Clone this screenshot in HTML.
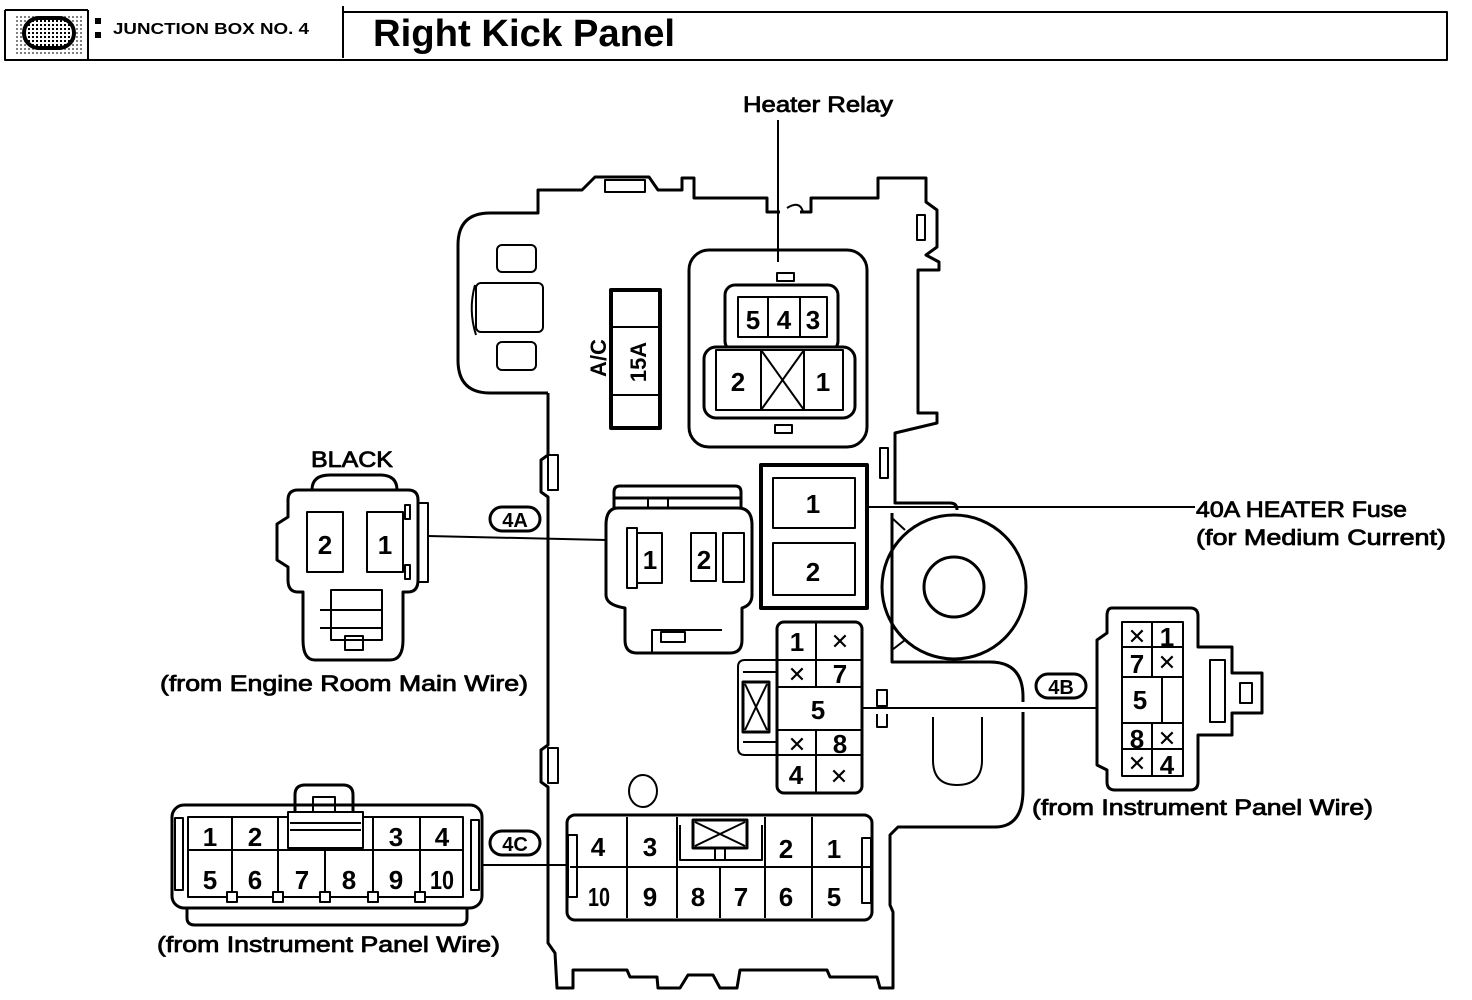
<!DOCTYPE html>
<html><head><meta charset="utf-8"><style>
html,body{margin:0;padding:0;background:#fff;}
svg{display:block;}
text{font-family:"Liberation Sans",sans-serif;fill:#000;}
.n{font-weight:bold;font-size:26px;text-anchor:middle;}
.l{font-size:22px;stroke:#000;stroke-width:0.8;}
</style></head><body>
<svg width="1472" height="1000" viewBox="0 0 1472 1000" xmlns="http://www.w3.org/2000/svg" fill="none" stroke="#000" stroke-width="3" stroke-linejoin="round">
<defs>
<pattern id="dots" width="4" height="4" patternUnits="userSpaceOnUse"><rect width="4" height="4" fill="#fff" stroke="none"/><rect x="0" y="0" width="2" height="2" fill="#000" stroke="none"/></pattern>
</defs>
<!-- header -->
<g stroke-width="2">
<path d="M5,10 V60 H1447 V12 H343 M343,6 V58"/>
<line x1="5" y1="10" x2="88" y2="10"/>
<line x1="88" y1="10" x2="88" y2="60"/>
</g>
<rect x="14" y="14" width="70" height="42" fill="url(#dots)" stroke="none" opacity="0.5"/>
<rect x="24" y="18" width="50" height="30" rx="15" fill="url(#dots)" stroke-width="4"/>
<rect x="95" y="18" width="6" height="6" fill="#000" stroke="none"/>
<rect x="95" y="32" width="6" height="6" fill="#000" stroke="none"/>
<text x="113" y="34" style="font-size:16px;font-weight:bold" stroke="none" textLength="196" lengthAdjust="spacingAndGlyphs">JUNCTION  BOX NO.  4</text>
<text x="373" y="46" style="font-size:38px;font-weight:bold" stroke="none" textLength="302" lengthAdjust="spacingAndGlyphs">Right Kick Panel</text>

<!-- main body outline -->
<path d="M548,393 H490 Q458,393 458,360 V245 Q458,213 490,213 H538 V190 H582 L595,177 H649 L658,190 H682 V178 H694 V198 H767 V212 H780 M800,212 H811 V198 H878 V178 H926 V202 L937,210 V247 L926,255 L939,262 V270 H918 V413 H937 V423 L895,433 V503 H950 Q957,503 957,510"/>
<path d="M787,208 Q800,200 803,212" stroke-width="2"/>
<path d="M548,393 V455 L541,460 V492 L548,497 V745 L541,750 V782 L548,787 V943 L555,953 L557,988 H573 V970 H627 L630,977 H657 L658,988 H680 L688,975 H713 L720,988 H737 L740,970 H827 L830,977 H877 L880,988 H893 V912 L890,905 V835 L898,827 H995 Q1023,827 1023,790 V712 M1023,702 V697 Q1023,662 990,662 H892 V513"/>
<!-- side tabs -->
<rect x="548" y="455" width="10" height="35" stroke-width="2"/>
<rect x="548" y="748" width="10" height="35" stroke-width="2"/>
<rect x="880" y="448" width="8" height="30" stroke-width="2"/>
<rect x="917" y="215" width="8" height="25" stroke-width="2"/>
<rect x="605" y="180" width="40" height="12" stroke-width="2"/>
<!-- left appendage -->
<path d="M475,285 Q468,310 476,335" stroke-width="2"/>
<rect x="497" y="245" width="39" height="27" rx="5" stroke-width="2"/>
<rect x="476" y="283" width="67" height="49" rx="5" stroke-width="2"/>
<rect x="497" y="342" width="39" height="28" rx="5" stroke-width="2"/>
<!-- A/C fuse -->
<rect x="611" y="290" width="49" height="138" stroke-width="4"/>
<line x1="613" y1="327" x2="658" y2="327" stroke-width="2"/>
<line x1="613" y1="395" x2="658" y2="395" stroke-width="2"/>
<text transform="translate(646,362) rotate(-90)" class="n" stroke="none" style="font-size:22px">15A</text>
<text transform="translate(606,358) rotate(-90)" class="n" stroke="none" style="font-size:22px">A/C</text>
<!-- heater relay -->
<line x1="778" y1="120" x2="778" y2="262" stroke-width="2"/>
<rect x="689" y="250" width="178" height="197" rx="20"/>
<rect x="777" y="273" width="17" height="8" stroke-width="2"/>
<rect x="775" y="425" width="17" height="8" stroke-width="2"/>
<rect x="725" y="285" width="113" height="66" rx="10"/>
<rect x="704" y="347" width="151" height="71" rx="12" fill="#fff"/>
<g stroke-width="2">
<rect x="738" y="297" width="89" height="40"/>
<line x1="768" y1="297" x2="768" y2="337"/><line x1="800" y1="297" x2="800" y2="337"/>
<rect x="716" y="350" width="127" height="60"/>
<line x1="761" y1="350" x2="761" y2="410"/><line x1="804" y1="350" x2="804" y2="410"/>
<line x1="761" y1="350" x2="804" y2="410"/><line x1="804" y1="350" x2="761" y2="410"/>
</g>
<g class="n" stroke="none"><text x="753" y="329">5</text><text x="784" y="329">4</text><text x="813" y="329">3</text><text x="738" y="391">2</text><text x="823" y="391">1</text></g>
<text x="743" y="112" class="l" stroke="none" textLength="150" lengthAdjust="spacingAndGlyphs">Heater Relay</text>
<!-- 40A fuse -->
<rect x="761" y="465" width="106" height="143" stroke-width="4"/>
<rect x="773" y="478" width="82" height="50" stroke-width="2"/>
<rect x="773" y="543" width="82" height="52" stroke-width="2"/>
<g class="n" stroke="none"><text x="813" y="513">1</text><text x="813" y="581">2</text></g>
<line x1="868" y1="507" x2="1195" y2="507" stroke-width="2"/>
<text x="1196" y="517" class="l" stroke="none" textLength="211" lengthAdjust="spacingAndGlyphs">40A HEATER Fuse</text>
<text x="1196" y="545" class="l" stroke="none" textLength="250" lengthAdjust="spacingAndGlyphs">(for Medium Current)</text>
<!-- big circle -->
<circle cx="954" cy="587" r="72"/>
<circle cx="954" cy="587" r="30"/>
<path d="M892,518 L905,530 M892,650 L905,640" stroke-width="2"/>
<!-- 4A box connector -->
<path d="M614,508 V492 Q614,486 620,486 H735 Q741,486 741,492 V508 M614,498 H741" stroke-width="3"/>
<path d="M648,498 V508 M668,498 V508" stroke-width="2"/>
<path d="M618,508 H738 Q752,508 752,525 V595 Q752,605 742,608 V640 Q742,653 730,653 H637 Q625,653 625,640 V608 Q606,605 606,595 V525 Q606,508 618,508 Z"/>
<path d="M652,653 V630 H722" stroke-width="2"/>
<rect x="661" y="632" width="24" height="10" stroke-width="2"/>
<g stroke-width="2">
<rect x="637" y="533" width="25" height="50"/>
<rect x="691" y="533" width="25" height="48"/>
<rect x="723" y="533" width="21" height="49"/>
<rect x="627" y="528" width="10" height="60"/>
</g>
<g class="n" stroke="none"><text x="650" y="569">1</text><text x="704" y="569">2</text></g>
<line x1="428" y1="536" x2="606" y2="540" stroke-width="2"/>
<rect x="490" y="507" width="50" height="24" rx="12" stroke-width="3"/>
<text x="515" y="527" class="n" stroke="none" style="font-size:20px">4A</text>
<!-- BLACK connector -->
<text x="311" y="467" class="l" stroke="none" textLength="82" lengthAdjust="spacingAndGlyphs">BLACK</text>
<path d="M312,490 Q312,475 330,475 H380 Q397,475 397,490"/>
<path d="M298,490 H408 Q418,490 418,500 V580 Q418,592 408,592 H403 V640 Q403,660 390,660 H315 Q303,660 303,640 V592 H298 Q288,592 288,580 V567 L277,560 V524 L288,517 V500 Q288,490 298,490 Z"/>
<rect x="418" y="503" width="10" height="79" stroke-width="2"/>
<g stroke-width="2">
<rect x="307" y="512" width="36" height="60"/><rect x="367" y="512" width="36" height="60"/>
<rect x="405" y="505" width="5" height="14"/><rect x="405" y="565" width="5" height="14"/>
<rect x="331" y="590" width="51" height="50"/>
<line x1="320" y1="610" x2="382" y2="610"/><line x1="320" y1="628" x2="382" y2="628"/>
<rect x="345" y="636" width="18" height="14"/>
</g>
<g class="n" stroke="none"><text x="325" y="554">2</text><text x="385" y="554">1</text></g>
<text x="160" y="691" class="l" stroke="none" textLength="368" lengthAdjust="spacingAndGlyphs">(from Engine Room Main Wire)</text>
<!-- central 4B box connector -->
<rect x="777" y="622" width="85" height="171" rx="7"/>
<g stroke-width="2">
<line x1="816" y1="622" x2="816" y2="687"/><line x1="816" y1="730" x2="816" y2="793"/>
<line x1="777" y1="660" x2="862" y2="660"/><line x1="777" y1="687" x2="862" y2="687"/>
<line x1="777" y1="730" x2="862" y2="730"/><line x1="777" y1="755" x2="862" y2="755"/>
<path d="M777,660 H745 Q738,660 738,667 V748 Q738,755 745,755 H777 M743,672 H777 M743,742 H777"/>
<rect x="743" y="682" width="26" height="50" stroke-width="3"/>
<line x1="745" y1="684" x2="767" y2="730"/><line x1="767" y1="684" x2="745" y2="730"/>
<rect x="877" y="690" width="10" height="16"/><path d="M877,714 V727 H887 V714"/>
</g>
<g class="n" stroke="none"><text x="797" y="651">1</text><text x="840" y="683">7</text><text x="818" y="719">5</text><text x="840" y="753">8</text><text x="796" y="784">4</text></g>
<g class="n" stroke="none" style="font-size:22px;font-weight:normal"><text x="840" y="649">✕</text><text x="797" y="682">✕</text><text x="797" y="752">✕</text><text x="839" y="784">✕</text></g>
<line x1="862" y1="708" x2="1097" y2="708" stroke-width="2"/>
<path d="M933,717 V760 Q933,785 957,785 Q982,785 982,760 V717" stroke-width="2"/>
<ellipse cx="643" cy="791" rx="14" ry="16" stroke-width="2"/>
<!-- 4B external -->
<rect x="1036" y="674" width="50" height="24" rx="12"/>
<text x="1061" y="694" class="n" stroke="none" style="font-size:20px">4B</text>
<path d="M1112,608 H1190 Q1198,608 1198,616 V647 H1232 V673 H1262 V713 H1232 V735 H1198 V782 Q1198,790 1190,790 H1115 Q1107,790 1107,782 V770 L1097,765 V640 L1107,633 V616 Q1107,608 1112,608 Z"/>
<g stroke-width="2">
<rect x="1122" y="622" width="61" height="154"/>
<line x1="1152" y1="622" x2="1152" y2="677"/><line x1="1152" y1="723" x2="1152" y2="776"/>
<line x1="1162" y1="677" x2="1162" y2="723"/>
<line x1="1122" y1="647" x2="1183" y2="647"/><line x1="1122" y1="677" x2="1183" y2="677"/>
<line x1="1122" y1="723" x2="1183" y2="723"/><line x1="1122" y1="749" x2="1183" y2="749"/>
<rect x="1210" y="660" width="15" height="62"/><rect x="1240" y="683" width="12" height="20"/>
</g>
<g class="n" stroke="none"><text x="1167" y="646">1</text><text x="1137" y="673">7</text><text x="1140" y="709">5</text><text x="1137" y="748">8</text><text x="1167" y="774">4</text></g>
<g class="n" stroke="none" style="font-size:22px;font-weight:normal"><text x="1137" y="644">✕</text><text x="1167" y="670">✕</text><text x="1167" y="746">✕</text><text x="1137" y="771">✕</text></g>
<text x="1032" y="815" class="l" stroke="none" textLength="341" lengthAdjust="spacingAndGlyphs">(from Instrument Panel Wire)</text>
<!-- 4C box connector -->
<rect x="567" y="815" width="305" height="105" rx="8"/>
<g stroke-width="2">
<rect x="568" y="835" width="9" height="62"/><rect x="862" y="838" width="9" height="65"/>
<line x1="570" y1="867" x2="870" y2="867"/>
<line x1="627" y1="817" x2="627" y2="918"/><line x1="677" y1="817" x2="677" y2="918"/>
<line x1="720" y1="867" x2="720" y2="918"/><line x1="765" y1="817" x2="765" y2="918"/><line x1="812" y1="817" x2="812" y2="918"/>
<path d="M680,825 V860 H762 V825"/>
<rect x="693" y="820" width="54" height="28" stroke-width="3"/>
<line x1="695" y1="822" x2="745" y2="846"/><line x1="745" y1="822" x2="695" y2="846"/>
<line x1="715" y1="848" x2="715" y2="860"/><line x1="725" y1="848" x2="725" y2="860"/>
</g>
<g class="n" stroke="none"><text x="598" y="856">4</text><text x="650" y="856">3</text><text x="786" y="858">2</text><text x="834" y="858">1</text>
<text x="599" y="906" textLength="22" lengthAdjust="spacingAndGlyphs">10</text><text x="650" y="906">9</text><text x="698" y="906">8</text><text x="741" y="906">7</text><text x="786" y="906">6</text><text x="834" y="906">5</text></g>
<line x1="482" y1="865" x2="567" y2="865" stroke-width="2"/>
<rect x="490" y="831" width="50" height="24" rx="12"/>
<text x="515" y="851" class="n" stroke="none" style="font-size:20px">4C</text>
<!-- 4C external -->
<path d="M295,812 V795 Q295,785 305,785 H343 Q353,785 353,795 V812"/>
<rect x="172" y="805" width="310" height="103" rx="12"/>
<path d="M187,908 V918 Q187,925 195,925 H460 Q467,925 467,918 V908"/>
<g stroke-width="2">
<rect x="175" y="818" width="8" height="72"/><rect x="471" y="820" width="8" height="70"/>
<rect x="188" y="817" width="275" height="80"/>
<line x1="188" y1="850" x2="463" y2="850"/>
<line x1="232" y1="817" x2="232" y2="897"/><line x1="278" y1="817" x2="278" y2="897"/>
<line x1="325" y1="850" x2="325" y2="897"/><line x1="373" y1="817" x2="373" y2="897"/><line x1="420" y1="817" x2="420" y2="897"/>
<rect x="288" y="812" width="75" height="36" fill="#fff"/>
<line x1="290" y1="823" x2="361" y2="823"/><line x1="290" y1="830" x2="361" y2="830"/>
<rect x="313" y="797" width="22" height="15"/>
<rect x="227" y="892" width="10" height="10" fill="#fff"/><rect x="273" y="892" width="10" height="10" fill="#fff"/><rect x="320" y="892" width="10" height="10" fill="#fff"/><rect x="368" y="892" width="10" height="10" fill="#fff"/><rect x="415" y="892" width="10" height="10" fill="#fff"/>
</g>
<g class="n" stroke="none"><text x="210" y="846">1</text><text x="255" y="846">2</text><text x="396" y="846">3</text><text x="442" y="846">4</text>
<text x="210" y="889">5</text><text x="255" y="889">6</text><text x="302" y="889">7</text><text x="349" y="889">8</text><text x="396" y="889">9</text><text x="442" y="889" textLength="24" lengthAdjust="spacingAndGlyphs">10</text></g>
<text x="157" y="952" class="l" stroke="none" textLength="343" lengthAdjust="spacingAndGlyphs">(from Instrument Panel Wire)</text>
</svg>
</body></html>
